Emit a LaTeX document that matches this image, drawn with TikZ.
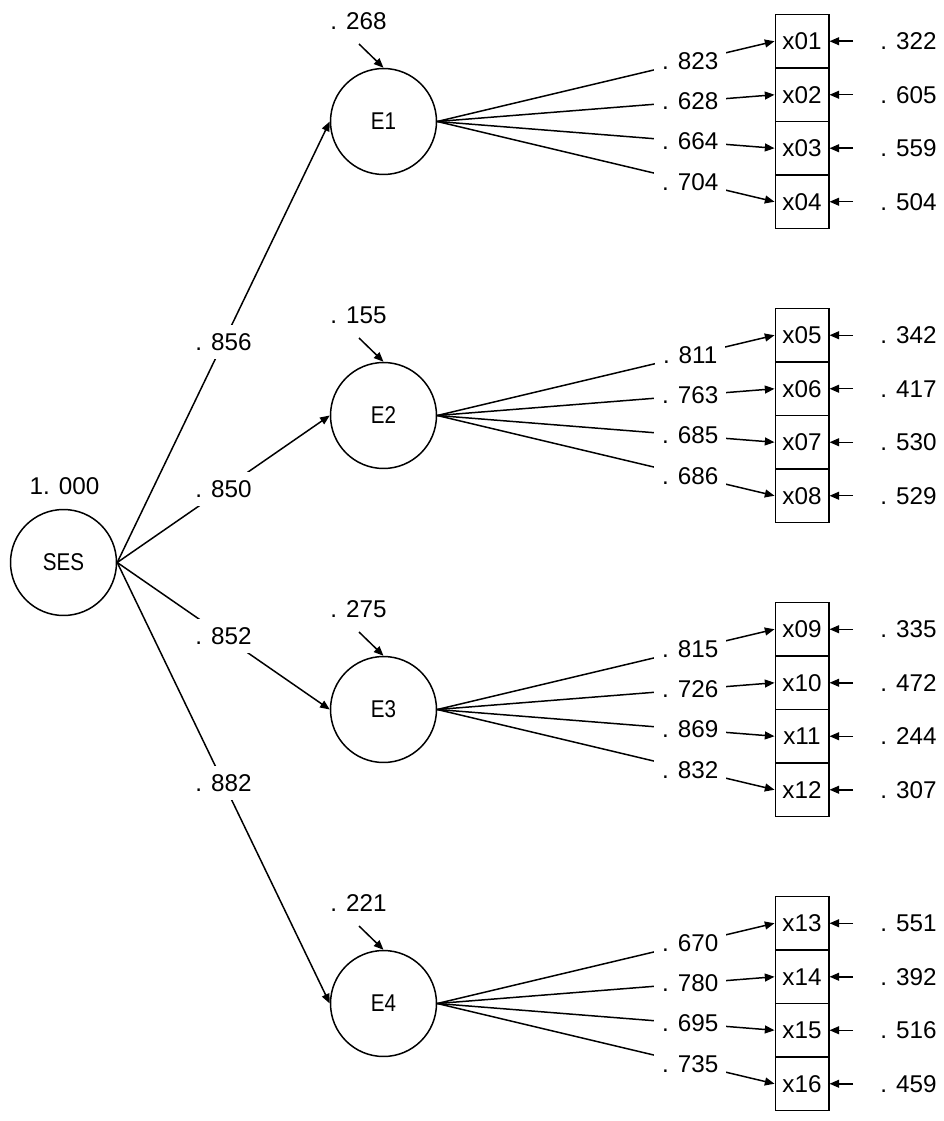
\documentclass[tikz,border=0pt]{standalone}
\usepackage{fontspec}
\setmainfont{Liberation Sans}
\usepackage{graphicx}
\usetikzlibrary{arrows.meta}
\tikzset{
  fac/.style={circle, draw, line width=0.85pt, minimum size=2.12cm, inner sep=0pt},
  ind/.style={rectangle, draw, line width=0.85pt, minimum width=1.07cm, minimum height=1.07cm, inner sep=0pt},
  coef/.style={fill=white, inner xsep=0.16cm, inner ysep=0.16cm},
  txt/.style={inner sep=0pt},
  link/.style={line width=0.85pt, -{Triangle[length=5.5pt,width=4.5pt]}},
}
\begin{document}
\begin{tikzpicture}[x=0.02cm, y=-0.02cm, font=\fontsize{13.8}{16}\selectfont]
  \useasboundingbox (0,0) rectangle (943,1121);
  % second-order factor
  \node[fac] (SES) at (63.5,562.5) {\scalebox{0.85}[1]{SES}};
  \node[txt] (sesvar) at (64.5,486) {1. 000};
  % first-order factors and their indicators
  \foreach \g/\y/\dvar/\gam/\items in {
      1/121.5/268/856/{823/322,628/605,664/559,704/504},
      2/415.5/155/850/{811/342,763/417,685/530,686/529},
      3/709.5/275/852/{815/335,726/472,869/244,832/307},
      4/1003.5/221/882/{670/551,780/392,695/516,735/459}}{
    \node[fac] (E\g) at (383.5,\y) {\scalebox{0.85}[1]{E\g}};
    \node[txt] (dvar\g) at (358.5,{\y-100.5}) {. \dvar};
    \coordinate (ds\g) at (359,{\y-77.5});
    \draw[link] (ds\g) -- (E\g.north);
    \draw[link] (SES.east) -- node[coef] (gam\g) {. \gam} (E\g.west);
    \foreach \l/\e [count=\i] in \items {
      \pgfmathtruncatemacro\k{(\g-1)*4+\i}
      \node[ind] (x\k) at (802,{\y+(\i-2.5)*53.5}) {x\ifnum\k<10 0\fi\k};
      \draw[link] (E\g.east) -- node[coef, pos=0.75] (lam\k) {. \l} (x\k.west);
      \node[txt, anchor=west] (eps\k) at (880,{\y+(\i-2.5)*53.5}) {. \e};
      \draw[link, shorten <=0.54cm] (eps\k.west) -- (x\k.east);
    }
  }
\end{tikzpicture}
\end{document}
